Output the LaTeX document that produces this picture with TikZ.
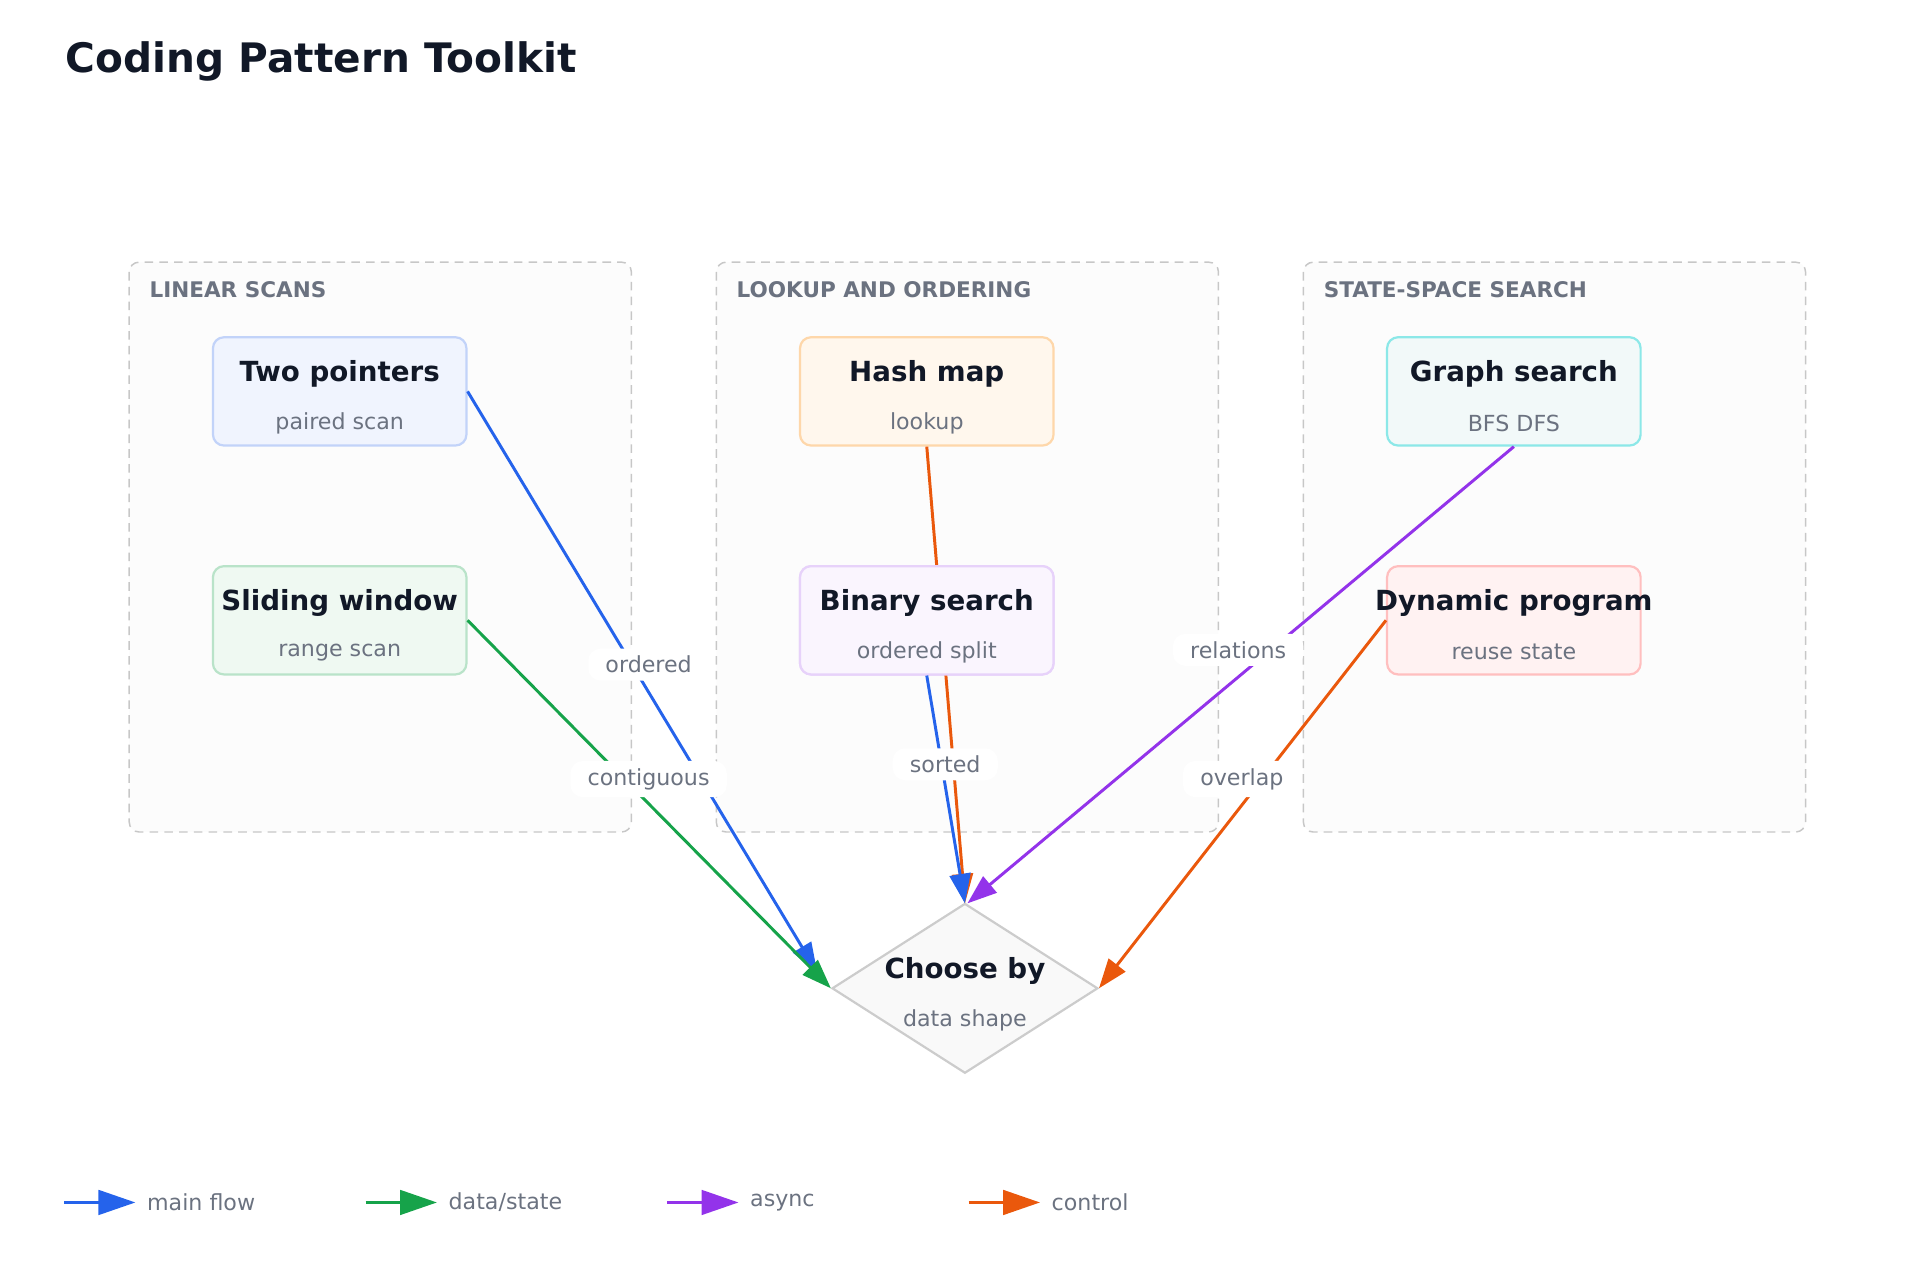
\documentclass[tikz,border=0pt]{standalone}
\usepackage{fontspec}
\setmainfont{DejaVu Sans}
\usetikzlibrary{arrows.meta,shapes.geometric}
\definecolor{ink}{HTML}{111827}
\definecolor{sub}{HTML}{6B7280}
\definecolor{cblue}{HTML}{2563EB}
\definecolor{cgreen}{HTML}{16A34A}
\definecolor{cpurple}{HTML}{9333EA}
\definecolor{corange}{HTML}{EA580C}
\tikzset{
  grp/.style={draw=black!22,dash pattern=on 7pt off 5pt,line width=1.2pt,fill=black!1.2,rounded corners=8pt},
  grplab/.style={anchor=west,text=sub,font=\fontsize{17.5}{20}\selectfont\bfseries},
  box/.style={rounded corners=9pt,line width=1.8pt,minimum width=206pt,minimum height=88pt},
  ttl/.style={text=ink,font=\fontsize{22.5}{26}\selectfont\bfseries},
  st/.style={text=sub,font=\fontsize{18}{21}\selectfont},
  edge/.style={line width=2.4pt,-{Triangle[length=24pt,width=17pt]}},
  elab/.style={fill=white,text=sub,font=\fontsize{18}{21}\selectfont,inner xsep=14pt,inner ysep=6pt,rounded corners=10pt},
}
\begin{document}
\begin{tikzpicture}[x=1pt,y=-1pt]
\useasboundingbox (0,0) rectangle (1560,1040);
\node[anchor=west,text=ink,font=\fontsize{33}{38}\selectfont\bfseries] (title) at (50,50) {Coding Pattern Toolkit};
\draw[grp] (105,213) rectangle (513,676);
\draw[grp] (582,213) rectangle (990,676);
\draw[grp] (1059,213) rectangle (1467,676);
\node[grplab] (g1) at (118,235) {LINEAR SCANS};
\node[grplab] (g2) at (595,235) {LOOKUP AND ORDERING};
\node[grplab] (g3) at (1072,235) {STATE-SPACE SEARCH};

\node[box,draw=cblue!28,fill=cblue!7] (tp) at (276,318) {};
\node[box,draw=cgreen!30,fill=cgreen!7] (sw) at (276,504) {};
\node[box,draw={rgb,255:red,254;green,215;blue,170},fill={rgb,255:red,255;green,247;blue,237}] (hm) at (753,318) {};
\node[box,draw=cpurple!22,fill=cpurple!5] (bs) at (753,504) {};
\node[box,draw=teal!40!cyan!45,fill=teal!5] (gs) at (1230,318) {};
\node[box,draw=red!25,fill=red!5] (dp) at (1230,504) {};
\node[diamond,draw=black!20,line width=1.8pt,fill=black!2.5,minimum width=216pt,minimum height=138pt,aspect=1.565,inner sep=0pt] (ch) at (784,803) {};

\coordinate (top) at (784,734);
\draw[edge,corange] (hm.south) -- (top);
\node[box,draw=cpurple!22,fill=cpurple!5] at (753,504) {};
\draw[edge,cblue] (tp.east) -- (664,790) coordinate (a1);
\draw[edge,cgreen] (sw.east) -- (ch.west);
\draw[edge,cblue] (bs.south) -- (top);
\draw[edge,cpurple] (gs.south) -- (786,734);
\draw[edge,corange] (dp.west) -- (ch.east);
\node[elab] (l1) at (527,540) {ordered};
\node[elab] (l2) at (527,633) {contiguous};
\node[elab] (l3) at (768,621) {sorted};
\node[elab] (l4) at (1006,528) {relations};
\node[elab] (l5) at (1009,633) {overlap};

\foreach \n/\x/\y/\t/\s in {a/276/318/Two pointers/paired scan,b/276/504/Sliding window/range scan,c/753/318/Hash map/lookup,d/753/504/Binary search/ordered split,e/1230/318/Graph search/BFS DFS,f/1230/504/Dynamic program/reuse state,g/784/803/Choose by/data shape}{
  \node[ttl] (t\n) at (\x,\y-14) {\t};
  \node[st] (s\n) at (\x,\y+26) {\s};
}

\foreach \c/\x/\t in {cblue/52/{main flow},cgreen/297/{data/state},cpurple/542/{async},corange/787/{control}}{
  \coordinate (ls\x) at (\x,977);
  \coordinate (le\x) at (\x+58,977);
  \draw[\c,line width=2.4pt,-{Triangle[length=30pt,width=20pt]}] (ls\x) -- (le\x);
  \node[anchor=west,text=sub,font=\fontsize{18}{21}\selectfont] (lt\x) at (\x+64,977) {\t};
}
\end{tikzpicture}
\end{document}
